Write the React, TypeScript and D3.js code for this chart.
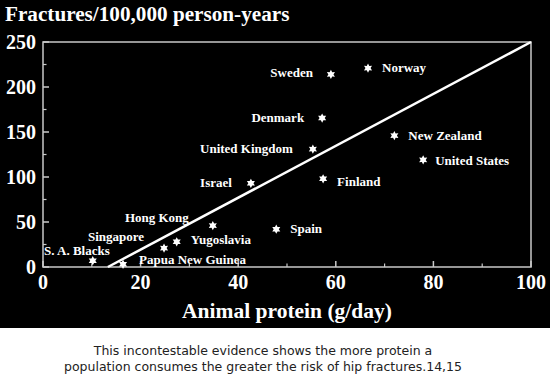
import React, { useEffect } from "react";
import * as d3 from "d3";

const countries = [
  "Norway", "Sweden", "Denmark", "United Kingdom", "New Zealand", "United States",
  "Finland", "Spain", "Israel", "Hong Kong", "Yugoslavia", "Singapore",
  "S. A. Blacks", "Papua New Guinea",
];
const protein = [66.6, 59.0, 57.2, 55.3, 72.0, 77.9, 57.4, 47.8, 42.6, 34.8, 27.4, 24.8, 10.2, 16.4];
const fractures = [221, 214, 165.5, 131, 146, 119, 98, 42, 93, 46, 28, 21, 7, 3];
// label placement: anchor, dx, dy (px relative to the marker)
const labelAnchor = ["start", "end", "end", "end", "start", "start", "start", "start", "end", "end", "start", "end", "end", "start"];
const labelDx = [14, -18, -18, -20, 14, 12, 14, 14, -19, -24, 14, -20, 17, 16];
const labelDy = [4, 3, 4, 4, 4, 5, 7, 4, 4, -4, 2, -7, -6, 0];

const xTicks = [0, 20, 40, 60, 80, 100];
const xMinor = [10, 30, 50, 70, 90];
const yTicks = [0, 50, 100, 150, 200, 250];
const yMinor = [25, 75, 125, 175, 225];
const fitLine = [[13.3, 0], [100, 250]];

const title = "Fractures/100,000 person-years";
const xTitle = "Animal protein (g/day)";
const caption = [
  "This incontestable evidence shows the more protein a",
  "population consumes the greater the risk of hip fractures.14,15",
];

const hexagram = {
  draw(ctx: any, size: number) {
    const r = Math.sqrt(size) * 0.6;
    const ri = r * 0.55;
    for (let i = 0; i < 12; i++) {
      const a = (i * Math.PI) / 6 - Math.PI / 2;
      const rr = i % 2 === 0 ? r : ri;
      const px = rr * Math.cos(a);
      const py = rr * Math.sin(a);
      if (i === 0) ctx.moveTo(px, py);
      else ctx.lineTo(px, py);
    }
    ctx.closePath();
  },
};

export default function App() {
  useEffect(() => {
    document.body.style.margin = "0";
  }, []);
  const W = 550, H = 390;
  const x = d3.scaleLinear().domain([0, 100]).range([43, 531]);
  const y = d3.scaleLinear().domain([0, 250]).range([267, 42]);
  const star = d3.symbol().type(hexagram as any).size(60)();
  const line = d3.line<number[]>().x((d) => x(d[0])).y((d) => y(d[1]));
  const serif = "'Liberation Serif', 'Times New Roman', serif";
  const frame = "#c8c8c8";
  return (
    <svg width={W} height={H} style={{ display: "block" }}>
      <rect x={0} y={0} width={W} height={H} fill="#fff" />
      <rect x={0} y={0} width={W} height={328} fill="#000" />
      <text x={5} y={21} fill="#fff" fontFamily={serif} fontWeight="bold" fontSize={21.2}>{title}</text>
      <rect x={x(0)} y={y(250)} width={x(100) - x(0)} height={y(0) - y(250)} fill="none" stroke={frame} strokeWidth={1.5} />
      {yTicks.map((t) => (
        <g key={"y" + t}>
          <line x1={x(0)} x2={x(0) + 6} y1={y(t)} y2={y(t)} stroke={frame} strokeWidth={1.5} />
          <text x={36} y={y(t) + 7} textAnchor="end" fill="#fff" fontFamily={serif} fontWeight="bold" fontSize={20}>{t}</text>
        </g>
      ))}
      {yMinor.map((t) => (
        <line key={"ym" + t} x1={x(0)} x2={x(0) + 3.5} y1={y(t)} y2={y(t)} stroke={frame} strokeWidth={1.2} />
      ))}
      {xTicks.map((t) => (
        <g key={"x" + t}>
          <line x1={x(t)} x2={x(t)} y1={y(0)} y2={y(0) - 6} stroke={frame} strokeWidth={1.5} />
          <text x={x(t)} y={289} textAnchor="middle" fill="#fff" fontFamily={serif} fontWeight="bold" fontSize={20}>{t}</text>
        </g>
      ))}
      {xMinor.map((t) => (
        <line key={"xm" + t} x1={x(t)} x2={x(t)} y1={y(0)} y2={y(0) - 3.5} stroke={frame} strokeWidth={1.2} />
      ))}
      <path d={line(fitLine) || ""} stroke="#fff" strokeWidth={2.5} fill="none" />
      {countries.map((c, i) => (
        <g key={c}>
          <path d={star || ""} transform={`translate(${x(protein[i])},${y(fractures[i])})`} fill="#fff" />
          <text x={x(protein[i]) + labelDx[i]} y={y(fractures[i]) + labelDy[i]} textAnchor={labelAnchor[i] as any}
            fill="#fff" fontFamily={serif} fontWeight="bold" fontSize={13}>{c}</text>
        </g>
      ))}
      <text x={287} y={318} textAnchor="middle" fill="#fff" fontFamily={serif} fontWeight="bold" fontSize={21.5}>{xTitle}</text>
      {caption.map((l, i) => (
        <text key={i} x={263} y={355 + i * 16} textAnchor="middle" fill="#222" fontFamily="'DejaVu Sans', Verdana, sans-serif" fontSize={12.5}>{l}</text>
      ))}
    </svg>
  );
}
